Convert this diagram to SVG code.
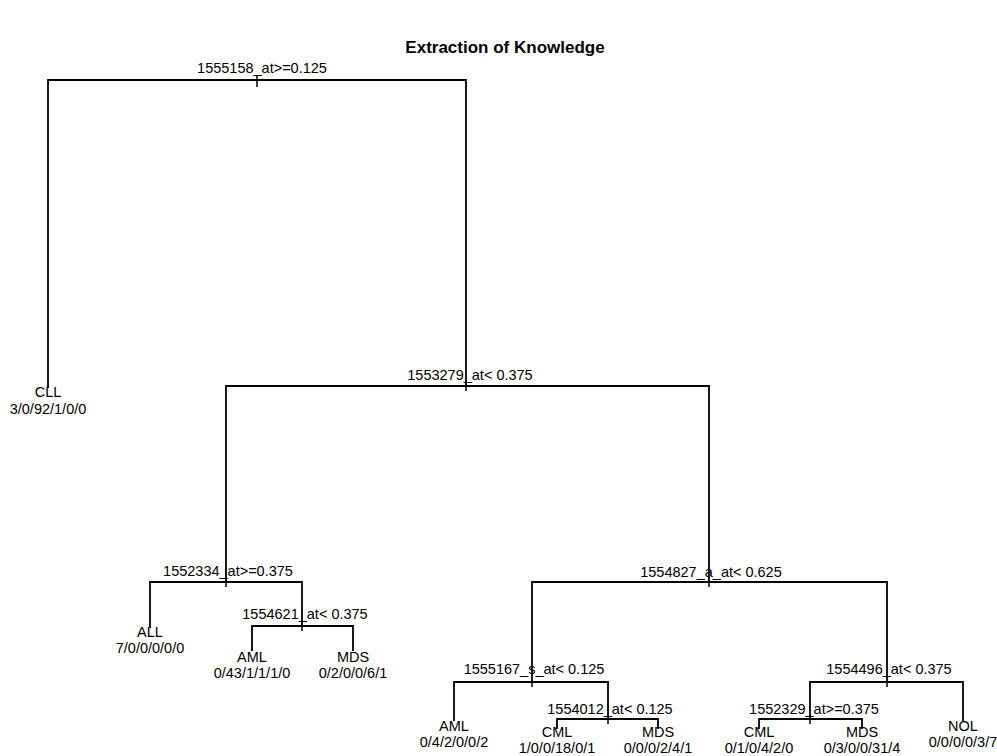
<svg xmlns="http://www.w3.org/2000/svg" width="997" height="756" viewBox="0 0 997 756">
<style>
text{font-family:"Liberation Sans",Arial,sans-serif;font-size:14.5px;fill:#000;text-anchor:middle}
.title{font-size:17px;font-weight:bold}
.e{fill:none;stroke:#000;stroke-width:1.8}
.t{stroke:#000;stroke-width:1.5}
</style>
<rect width="997" height="756" fill="#fff"/>
<text class="title" x="505" y="53">Extraction of Knowledge</text>
<g id="connectors">
<path class="e" d="M257,80 H48 V388"/>
<path class="e" d="M257,80 H466 V386"/>
<path class="e" d="M466,386 H226 V582"/>
<path class="e" d="M466,386 H709 V582"/>
<path class="e" d="M226,582 H150 V628"/>
<path class="e" d="M226,582 H302 V626"/>
<path class="e" d="M302,626 H252 V651"/>
<path class="e" d="M302,626 H353 V651"/>
<path class="e" d="M709,582 H532 V682"/>
<path class="e" d="M709,582 H887 V682"/>
<path class="e" d="M532,682 H454 V721"/>
<path class="e" d="M532,682 H608 V719"/>
<path class="e" d="M608,719 H557 V729"/>
<path class="e" d="M608,719 H658 V729"/>
<path class="e" d="M887,682 H810 V719"/>
<path class="e" d="M887,682 H963 V721"/>
<path class="e" d="M810,719 H759 V729"/>
<path class="e" d="M810,719 H862 V729"/>
</g>
<g id="n1555158"><line class="t" x1="257" y1="75" x2="257" y2="87"/><text x="262" y="73">1555158_at&gt;=0.125</text></g>
<g id="leafCLL"><text x="48" y="397">CLL</text><text x="48" y="414">3/0/92/1/0/0</text></g>
<g id="n1553279"><line class="t" x1="466" y1="386" x2="466" y2="391"/><text x="470" y="380">1553279_at&lt; 0.375</text></g>
<g id="n1552334"><line class="t" x1="226" y1="582" x2="226" y2="587"/><text x="228" y="576">1552334_at&gt;=0.375</text></g>
<g id="leafALL"><text x="150" y="637">ALL</text><text x="150" y="653">7/0/0/0/0/0</text></g>
<g id="n1554621"><line class="t" x1="302" y1="626" x2="302" y2="631"/><text x="305" y="619">1554621_at&lt; 0.375</text></g>
<g id="leafAML1"><text x="252" y="662">AML</text><text x="252" y="678">0/43/1/1/1/0</text></g>
<g id="leafMDS1"><text x="353" y="662">MDS</text><text x="353" y="678">0/2/0/0/6/1</text></g>
<g id="n1554827"><line class="t" x1="709" y1="582" x2="709" y2="587"/><text x="711" y="577">1554827_a_at&lt; 0.625</text></g>
<g id="n1555167"><line class="t" x1="532" y1="682" x2="532" y2="687"/><text x="534" y="674">1555167_s_at&lt; 0.125</text></g>
<g id="leafAML2"><text x="454" y="731">AML</text><text x="454" y="747">0/4/2/0/0/2</text></g>
<g id="n1554012"><line class="t" x1="608" y1="719" x2="608" y2="724"/><text x="610" y="714">1554012_at&lt; 0.125</text></g>
<g id="leafCML1"><text x="557" y="737">CML</text><text x="557" y="753">1/0/0/18/0/1</text></g>
<g id="leafMDS2"><text x="658" y="737">MDS</text><text x="658" y="753">0/0/0/2/4/1</text></g>
<g id="n1554496"><line class="t" x1="887" y1="682" x2="887" y2="687"/><text x="889" y="674">1554496_at&lt; 0.375</text></g>
<g id="n1552329"><line class="t" x1="810" y1="719" x2="810" y2="724"/><text x="814" y="714">1552329_at&gt;=0.375</text></g>
<g id="leafCML2"><text x="759" y="737">CML</text><text x="759" y="753">0/1/0/4/2/0</text></g>
<g id="leafMDS3"><text x="862" y="737">MDS</text><text x="862" y="753">0/3/0/0/31/4</text></g>
<g id="leafNOL"><text x="963" y="731">NOL</text><text x="963" y="747">0/0/0/0/3/7</text></g>
</svg>
